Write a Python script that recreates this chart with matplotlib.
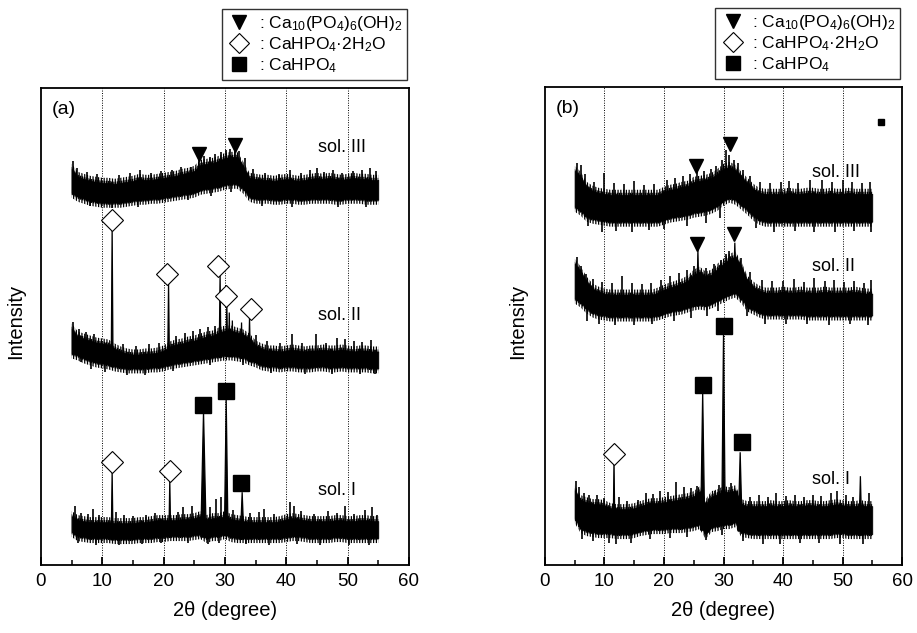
import numpy as np
import matplotlib
matplotlib.use("Agg")
import matplotlib.pyplot as plt
from matplotlib.lines import Line2D

plt.rcParams['font.family'] = ['Liberation Sans', 'DejaVu Sans']
plt.rcParams['mathtext.fontset'] = 'custom'
plt.rcParams['mathtext.rm'] = 'Liberation Sans'
plt.rcParams['mathtext.it'] = 'Liberation Sans:italic'
plt.rcParams['mathtext.default'] = 'regular'
plt.rcParams['hatch.linewidth'] = 0.9

# 2theta sampling of the noise band (deg)
two_theta = np.arange(5, 56, 1.0)

# ---- panel (a) ----
a3_hi = [398, 390, 388, 386, 385, 384, 384, 383, 384, 385,
         386, 388, 387, 387, 388, 389, 390, 391, 393, 394,
         396, 402, 403, 404, 406, 409, 410, 410, 400, 389,
         388, 387, 387, 386, 387, 388, 387, 386, 387, 388,
         389, 388, 389, 388, 387, 388, 389, 388, 388, 387, 387]
a3_lo = [372, 368, 366, 364, 363, 362, 362, 362, 362, 363,
         364, 365, 365, 366, 366, 367, 368, 369, 370, 371,
         372, 375, 376, 377, 378, 380, 381, 381, 376, 368,
         366, 366, 366, 365, 365, 366, 366, 365, 365, 366,
         366, 366, 366, 365, 365, 366, 366, 366, 365, 365, 365]
a3_peaks = []
a3_up = [(5.3, 405), (5.8, 398), (7.5, 394), (9.2, 392), (12.8, 391), (14.5, 393),
         (16.2, 396), (18.0, 393), (19.6, 395), (21.3, 396), (22.8, 399), (24.4, 399),
         (25.7, 408), (26.6, 410), (27.5, 409), (28.3, 412), (29.3, 414), (30.2, 416),
         (30.8, 417), (31.6, 418), (32.3, 415), (33.2, 408), (34.6, 397), (36.5, 393),
         (38.8, 392), (40.6, 396), (42.4, 393), (43.8, 396), (45.0, 398), (46.2, 394),
         (47.6, 396), (49.0, 393), (50.8, 395), (52.3, 396), (53.6, 398), (54.7, 395)]
a3_down = [(8.0, 360), (11.5, 358), (15.8, 359), (24.0, 366), (27.8, 370), (31.0, 374),
           (36.0, 360), (41.0, 359), (48.5, 359), (53.0, 359)]

a2_hi = [238, 230, 228, 226, 224, 223, 222, 218, 215, 213,
         212, 212, 213, 213, 214, 216, 220, 222, 223, 225,
         226, 228, 230, 231, 234, 236, 236, 234, 232, 228,
         221, 218, 216, 216, 215, 216, 217, 216, 215, 216,
         216, 217, 216, 216, 217, 216, 215, 216, 216, 215, 215]
a2_lo = [211, 209, 206, 204, 202, 201, 200, 198, 197, 196,
         196, 196, 196, 197, 197, 198, 200, 201, 202, 203,
         204, 205, 206, 207, 208, 209, 209, 208, 207, 204,
         202, 199, 198, 198, 197, 198, 198, 197, 197, 197,
         198, 198, 197, 197, 198, 197, 197, 197, 197, 196, 196]
a2_peaks = [(11.6, 339, 0.15), (20.8, 283, 0.15), (29.2, 291, 0.15), (30.3, 263, 0.15),
            (30.7, 253, 0.12), (31.2, 245, 0.12), (32.7, 243, 0.12), (34.0, 248, 0.15)]
a2_up = [(5.3, 244), (6.2, 236), (7.4, 233), (8.6, 231), (13.4, 221), (15.5, 219),
         (17.6, 221), (19.2, 222), (22.0, 229), (23.4, 232), (24.8, 234), (26.0, 236),
         (27.2, 238), (28.3, 240), (35.0, 230), (36.8, 224), (39.0, 222), (41.0, 231),
         (42.6, 222), (44.8, 231), (46.5, 222), (48.2, 227), (49.6, 226), (51.0, 224),
         (52.4, 223), (53.8, 225)]
a2_down = [(6.5, 203), (8.2, 196), (10.4, 193), (14.0, 190), (17.0, 190), (21.5, 194),
           (27.5, 200), (33.0, 200), (37.5, 192), (43.0, 191), (47.5, 191), (52.0, 191),
           (54.5, 191)]

a1_hi = [50, 46, 45, 44, 44, 44, 44, 43, 43, 43,
         43, 44, 44, 45, 46, 46, 46, 46, 47, 47,
         48, 50, 46, 48, 48, 50, 47, 46, 45, 44,
         44, 44, 44, 44, 45, 47, 48, 47, 46, 45,
         45, 45, 45, 46, 46, 45, 45, 46, 46, 45, 45]
a1_lo = [32, 28, 27, 26, 26, 26, 26, 25, 25, 25,
         25, 26, 26, 26, 27, 27, 28, 28, 28, 28,
         29, 30, 26, 28, 28, 30, 27, 26, 26, 26,
         26, 26, 26, 26, 26, 27, 28, 28, 27, 26,
         26, 26, 26, 27, 27, 26, 26, 26, 26, 26, 26]
a1_peaks = [(11.6, 94, 0.15), (21.0, 86, 0.15), (26.5, 154, 0.45), (30.2, 166, 0.3),
            (32.8, 73, 0.3)]
a1_up = [(5.5, 59), (6.6, 52), (7.6, 51), (8.5, 56), (9.5, 50), (12.2, 53), (13.5, 50),
         (15.0, 49), (17.2, 50), (18.6, 52), (22.3, 53), (23.2, 58), (24.7, 59),
         (27.6, 58), (28.6, 66), (29.3, 68), (31.3, 55), (34.0, 52), (35.5, 53),
         (36.3, 56), (38.0, 51), (40.6, 63), (41.3, 59), (42.4, 54), (44.5, 51),
         (46.8, 54), (48.2, 52), (49.5, 59), (51.0, 51), (52.8, 55), (53.9, 58), (54.8, 50)]
a1_down = [(6.0, 22), (9.0, 20), (12.8, 20), (16.4, 21), (19.6, 22), (24.0, 22), (27.3, 21),
           (29.0, 22), (33.5, 21), (37.2, 20), (41.8, 21), (45.5, 20), (50.2, 20), (53.5, 20)]

# ---- panel (b) ----
b3_hi = [396, 390, 380, 376, 374, 373, 372, 372, 372, 372,
         372, 372, 372, 372, 372, 375, 377, 378, 380, 381,
         385, 386, 387, 389, 393, 398, 400, 397, 390, 384,
         378, 374, 373, 373, 373, 373, 374, 373, 373, 374,
         374, 373, 373, 374, 373, 373, 374, 373, 373, 373, 373]
b3_lo = [358, 354, 348, 346, 345, 344, 343, 343, 343, 343,
         343, 343, 343, 343, 343, 345, 347, 348, 349, 350,
         352, 353, 354, 356, 359, 364, 367, 365, 360, 355,
         349, 345, 343, 343, 343, 343, 343, 343, 343, 343,
         343, 343, 343, 343, 343, 343, 343, 343, 343, 343, 343]
b3_peaks = []
b3_up = [(5.4, 403), (6.0, 401), (6.8, 392), (8.3, 384), (10.0, 393), (11.6, 383),
         (13.2, 382), (15.0, 385), (16.6, 381), (18.4, 382), (20.5, 386), (21.8, 388),
         (23.2, 390), (24.3, 392), (25.5, 398), (26.8, 395), (27.9, 397), (28.8, 400),
         (29.8, 406), (30.5, 416), (31.0, 411), (31.8, 406), (32.5, 403), (33.3, 396),
         (34.4, 390), (36.2, 384), (37.8, 383), (39.6, 384), (41.0, 385), (42.5, 383),
         (44.5, 386), (46.5, 386), (48.2, 384), (50.0, 386), (51.6, 384), (53.2, 383),
         (54.6, 384)]
b3_down = [(7.2, 340), (9.5, 334), (12.0, 335), (14.6, 334), (17.4, 336), (20.0, 337),
           (23.8, 340), (27.0, 343), (29.4, 348), (35.5, 338), (38.5, 334), (42.0, 335),
           (45.2, 334), (48.8, 334), (52.0, 335), (54.8, 334)]

b2_hi = [303, 295, 285, 278, 275, 273, 272, 272, 272, 272,
         272, 272, 272, 272, 274, 277, 279, 281, 283, 286,
         292, 295, 290, 292, 298, 303, 308, 310, 300, 286,
         280, 276, 274, 274, 274, 275, 274, 274, 275, 274,
         274, 274, 275, 274, 274, 274, 274, 275, 274, 273, 273]
b2_lo = [266, 262, 256, 252, 250, 249, 248, 248, 248, 248,
         248, 248, 248, 248, 249, 251, 253, 254, 255, 257,
         259, 260, 259, 261, 264, 267, 270, 272, 266, 258,
         255, 252, 250, 250, 250, 250, 250, 250, 250, 249,
         249, 249, 249, 249, 249, 249, 249, 249, 249, 249, 249]
b2_peaks = [(25.7, 316, 0.2), (31.9, 323, 0.25)]
b2_up = [(5.3, 309), (6.0, 300), (6.9, 292), (8.0, 287), (9.6, 284), (11.2, 283),
         (13.0, 290), (14.6, 283), (16.3, 282), (17.8, 283), (19.5, 286), (21.0, 290),
         (22.5, 293), (23.8, 296), (25.0, 300), (27.0, 298), (28.4, 302), (29.5, 306),
         (30.5, 312), (31.0, 315), (33.0, 308), (34.5, 294), (36.4, 286), (38.2, 285),
         (40.0, 285), (41.8, 287), (43.5, 284), (45.2, 288), (47.0, 285), (48.6, 286),
         (50.3, 284), (52.0, 285), (53.6, 283), (54.8, 286)]
b2_down = [(7.0, 245), (9.0, 241), (11.8, 240), (15.0, 240), (18.0, 242), (21.6, 245),
           (24.6, 248), (27.3, 250), (29.0, 255), (34.0, 250), (37.0, 242), (40.5, 241),
           (44.0, 241), (47.8, 240), (51.2, 241), (54.2, 240)]

b1_hi = [76, 66, 64, 62, 62, 61, 58, 57, 57, 57,
         58, 60, 62, 63, 63, 64, 65, 66, 67, 68,
         70, 75, 62, 70, 72, 75, 74, 76, 62, 60,
         60, 60, 60, 61, 60, 60, 61, 60, 60, 61,
         61, 60, 60, 61, 62, 61, 60, 60, 61, 60, 60]
b1_lo = [46, 36, 33, 32, 31, 31, 31, 30, 30, 30,
         31, 33, 34, 35, 35, 35, 36, 36, 36, 37,
         38, 40, 30, 37, 38, 40, 40, 42, 32, 31,
         30, 30, 30, 30, 30, 30, 30, 30, 30, 30,
         30, 30, 30, 30, 31, 31, 30, 30, 30, 30, 30]
b1_peaks = [(11.6, 106, 0.15), (26.5, 174, 0.35), (30.0, 232, 0.3), (32.8, 113, 0.35),
            (53.0, 89, 0.25)]
b1_up = [(5.2, 84), (5.8, 78), (6.6, 72), (7.4, 70), (8.8, 70), (10.0, 67), (12.4, 68),
         (13.8, 64), (15.6, 65), (16.9, 72), (18.2, 71), (19.4, 74), (20.7, 73),
         (22.1, 83), (23.4, 78), (24.6, 77), (25.5, 79), (28.6, 74), (29.2, 80),
         (31.2, 82), (34.5, 68), (36.0, 70), (37.4, 68), (38.9, 72), (40.5, 69),
         (42.0, 70), (43.6, 68), (45.0, 70), (46.4, 69), (48.0, 72), (49.0, 74),
         (50.5, 70), (51.8, 68), (54.5, 72)]
b1_down = [(6.2, 26), (8.0, 24), (10.8, 22), (12.0, 21), (14.4, 22), (17.6, 26),
           (21.0, 27), (23.8, 28), (27.0, 25), (29.8, 30), (33.2, 24), (36.6, 21),
           (39.5, 21), (42.8, 22), (46.0, 22), (49.6, 21), (53.4, 21)]

# phase markers (2theta, intensity)
a_hap = [(25.8, 412), (31.7, 421)]
a_dcpd = [(11.6, 346), (20.5, 292), (28.8, 300), (30.2, 270), (34.3, 257),
          (11.6, 103), (21.1, 94)]
a_dcpa = [(26.4, 160), (30.1, 174), (32.6, 82)]
b_hap = [(25.4, 400), (31.1, 422), (25.6, 322), (31.8, 332)]
b_dcpd = [(11.6, 111)]
b_dcpa = [(26.5, 180), (30.0, 239), (33.1, 123)]

sol_names = ["sol. III", "sol. II", "sol. I"]
a_label_pos = [(45.2, 418), (45.2, 250), (45.2, 75)]
b_label_pos = [(44.8, 393), (44.8, 299), (44.8, 86)]

legend_labels = [": Ca$_{10}$(PO$_4$)$_6$(OH)$_2$",
                 ": CaHPO$_4$\u00b72H$_2$O",
                 ": CaHPO$_4$"]


def draw_trace(ax, hi, lo, peaks, up, down):
    hi = np.asarray(hi, float)
    lo = np.asarray(lo, float)
    # fuzzy noise fringe + solid core
    ax.fill_between(two_theta, lo - 4, hi + 4, facecolor='none', edgecolor='k',
                    hatch='||||||', lw=0)
    ax.fill_between(two_theta, lo - 1, hi + 1, facecolor='none', edgecolor='k',
                    hatch='|||||||||', lw=0)
    ax.fill_between(two_theta, lo + 1, hi - 1, color='k', lw=0.5)
    if up:
        ux, uy = zip(*up)
        ax.vlines(ux, np.interp(ux, two_theta, lo), uy, color='k', lw=1.2)
    if down:
        dx, dy = zip(*down)
        ax.vlines(dx, dy, np.interp(dx, two_theta, hi), color='k', lw=1.2)
    for p, top, w in peaks:
        base = np.interp(p, two_theta, lo)
        ax.fill([p - w, p, p + w], [base, top, base], color='k', lw=0.9)


def draw_markers(ax, hap, dcpd, dcpa):
    for x, y in hap:
        ax.plot(x, y, marker='v', color='k', ms=10, ls='none')
    for x, y in dcpd:
        ax.plot(x, y, marker='D', mfc='white', mec='k', mew=0.8, ms=11, ls='none')
    for x, y in dcpa:
        ax.plot(x, y, marker='s', color='k', ms=11, ls='none')


def style_axes(ax, tag, ytop, ylab_x):
    ax.set_xlim(0, 60)
    ax.set_ylim(0, ytop)
    ax.set_xticks(range(0, 61, 10))
    ax.set_xticks(range(5, 60, 10), minor=True)
    ax.set_yticks([])
    ax.tick_params(axis='x', which='major', direction='in', length=6, width=1.3,
                   labelsize=13.5, pad=6)
    ax.tick_params(axis='x', which='minor', direction='in', length=3.5, width=1.1)
    for x in range(10, 60, 10):
        ax.axvline(x, color='k', ls=(0, (1, 1.5)), lw=0.7, zorder=0)
    for s in ax.spines.values():
        s.set_linewidth(1.3)
    ax.set_xlabel("2\u03b8 (degree)", fontsize=14.5, labelpad=8)
    ax.set_ylabel("Intensity", fontsize=14.5)
    ax.yaxis.set_label_coords(ylab_x, 0.51)
    ax.text(1.8, ytop - 22, tag, fontsize=14, va='center')
    handles = [Line2D([], [], marker='v', color='k', ls='none', ms=10),
               Line2D([], [], marker='D', mfc='white', mec='k', mew=0.8, ls='none', ms=10),
               Line2D([], [], marker='s', color='k', ls='none', ms=10)]
    leg = ax.legend(handles, legend_labels, loc='lower right', bbox_to_anchor=(0.995, 1.017),
                    borderaxespad=0, fontsize=12.5, frameon=True, fancybox=False,
                    edgecolor='k', handlelength=1.4, handletextpad=0.4,
                    labelspacing=0.12, borderpad=0.3)
    leg.get_frame().set_linewidth(1.0)


fig = plt.figure(figsize=(9.17, 6.33), dpi=100)
ax_a = fig.add_axes([0.0447, 0.1074, 0.4013, 0.7536])
ax_b = fig.add_axes([0.5943, 0.1074, 0.3894, 0.7552])

for hi, lo, pk, up, dn in [(a3_hi, a3_lo, a3_peaks, a3_up, a3_down),
                           (a2_hi, a2_lo, a2_peaks, a2_up, a2_down),
                           (a1_hi, a1_lo, a1_peaks, a1_up, a1_down)]:
    draw_trace(ax_a, hi, lo, pk, up, dn)
for hi, lo, pk, up, dn in [(b3_hi, b3_lo, b3_peaks, b3_up, b3_down),
                           (b2_hi, b2_lo, b2_peaks, b2_up, b2_down),
                           (b1_hi, b1_lo, b1_peaks, b1_up, b1_down)]:
    draw_trace(ax_b, hi, lo, pk, up, dn)

draw_markers(ax_a, a_hap, a_dcpd, a_dcpa)
draw_markers(ax_b, b_hap, b_dcpd, b_dcpa)
ax_b.plot(56.5, 444, marker='s', color='k', ms=5, ls='none')

for name, (x, y) in zip(sol_names, a_label_pos):
    ax_a.text(x, y, name, fontsize=13, va='center')
for name, (x, y) in zip(sol_names, b_label_pos):
    ax_b.text(x, y, name, fontsize=13, va='center')

style_axes(ax_a, "(a)", 478, -0.043)
style_axes(ax_b, "(b)", 479, -0.05)

fig.savefig("out.png", dpi=100)
